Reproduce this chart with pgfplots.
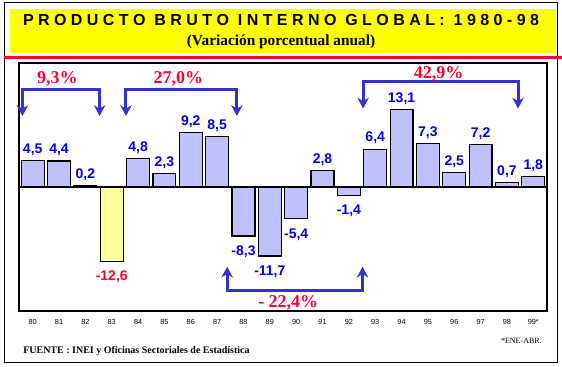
\documentclass[border=0pt]{standalone}
\usepackage{fontspec}
\setmainfont{Liberation Serif}
\setsansfont{Liberation Sans}
\usepackage{pgfplots}
\pgfplotsset{compat=1.18}
\usetikzlibrary{arrows.meta}
\definecolor{barfill}{RGB}{192,192,255}
\definecolor{baryel}{RGB}{255,255,153}
\definecolor{titleyel}{RGB}{255,255,0}
\definecolor{redtxt}{RGB}{255,0,51}
\definecolor{lblblue}{RGB}{0,0,230}
\definecolor{arrblue}{RGB}{51,51,204}
\tikzset{brk/.style={arrblue, line width=2.25pt, line join=miter,
  {Stealth[length=8pt,width=8.5pt,inset=2.5pt]}-{Stealth[length=8pt,width=8.5pt,inset=2.5pt]}}}
\begin{document}
\begin{tikzpicture}
\path[use as bounding box] (0,0) rectangle (421.5pt,-275.25pt);
\begin{scope}[x=0.75pt,y=-0.75pt]
\fill[titleyel] (10,9) rectangle (556,53);
\draw[line width=0.75pt] (4.5,2.5) rectangle (557.5,362.5);
\draw[redtxt, line width=2.25pt] (4,58) -- (562,58);
\node[font=\sffamily\bfseries\fontsize{12}{14}\selectfont] at (281,20) {\makebox[387pt]{P\hfill R\hfill O\hfill D\hfill U\hfill C\hfill T\hfill O\hfill\hfill B\hfill R\hfill U\hfill T\hfill O\hfill\hfill I\hfill N\hfill T\hfill E\hfill R\hfill N\hfill O\hfill\hfill G\hfill L\hfill O\hfill B\hfill A\hfill L\hfill :\hfill\hfill 1\hfill 9\hfill 8\hfill 0\hfill -\hfill 9\hfill 8}};
\node[font=\bfseries\fontsize{11.5}{13}\selectfont] at (281,42) {(Variación porcentual anual)};
\node[font=\bfseries\fontsize{7.5}{9}\selectfont, anchor=west, inner sep=0pt] at (23,351) {FUENTE : INEI y Oficinas Sectoriales de Estadística};
\node[font=\fontsize{6}{7}\selectfont, anchor=east, inner sep=0pt] at (542,341) {*ENE-ABR.};
\end{scope}
\begin{axis}[at={(14.25pt,-233.25pt)}, anchor=south west, scale only axis,
  width=396pt, height=186pt,
  xmin=-0.52, xmax=19.52, ymin=-21, ymax=21,
  ybar, bar width=0.87, bar shift=0pt,
  axis line style={line width=1pt},
  xtick={0,...,19},
  xticklabels={80,81,82,83,84,85,86,87,88,89,90,91,92,93,94,95,96,97,98,99*},
  major tick length=0pt, ytick=\empty,
  xticklabel style={font=\sffamily\fontsize{5.5}{6}\selectfont, anchor=center, yshift=-8.25pt},
  /pgf/number format/fixed, /pgf/number format/fixed zerofill,
  /pgf/number format/precision=1, /pgf/number format/use comma,
  /pgf/number format/assume math mode=true,
  nodes near coords,
  every node near coord/.append style={font=\sffamily\bfseries\fontsize{10.5}{12}\selectfont, text=lblblue},
  clip=false]
\addplot[fill=barfill, draw=black, line width=0.9pt, bar shift=0pt]
  coordinates {(0,4.5)(1,4.4)(2,0.2)(4,4.8)(5,2.3)(6,9.2)(7,8.5)(11,2.8)(13,6.4)(14,13.1)(15,7.3)(16,2.5)(17,7.2)(18,0.7)(19,1.8)};
\addplot[fill=barfill, draw=black, line width=0.9pt, bar shift=0pt,
  every node near coord/.append style={yshift=-3.5pt}]
  coordinates {(8,-8.3)(9,-11.7)(10,-5.4)(12,-1.4)};
\addplot[fill=baryel, draw=black, line width=0.9pt, bar shift=0pt,
  every node near coord/.append style={yshift=-3.5pt, text=redtxt}]
  coordinates {(3,-12.6)};
\draw[line width=1pt] (axis cs:-0.52,0) -- (axis cs:19.52,0);
\draw[brk] (axis cs:-0.39,12.03) -- (axis cs:-0.39,16.56) -- (axis cs:2.54,16.56) -- (axis cs:2.54,12.03);
\draw[brk] (axis cs:3.54,12.03) -- (axis cs:3.54,16.56) -- (axis cs:7.75,16.56) -- (axis cs:7.75,12.03);
\draw[brk] (axis cs:12.54,13.3) -- (axis cs:12.54,17.85) -- (axis cs:18.42,17.85) -- (axis cs:18.42,13.3);
\draw[brk] (axis cs:7.38,-13.5) -- (axis cs:7.38,-17.46) -- (axis cs:12.52,-17.46) -- (axis cs:12.52,-13.5);
\node[anchor=base, text=redtxt, font=\bfseries\fontsize{13.5}{15}\selectfont] at (axis cs:0.94,17.58) {9,3\%};
\node[anchor=base, text=redtxt, font=\bfseries\fontsize{13.5}{15}\selectfont] at (axis cs:5.53,17.58) {27,0\%};
\node[anchor=base, text=redtxt, font=\bfseries\fontsize{13.5}{15}\selectfont] at (axis cs:15.41,18.42) {42,9\%};
\node[anchor=base, text=redtxt, font=\bfseries\fontsize{13.5}{15}\selectfont] at (axis cs:9.70,-20.4) {- 22,4\%};
\end{axis}
\end{tikzpicture}
\end{document}
